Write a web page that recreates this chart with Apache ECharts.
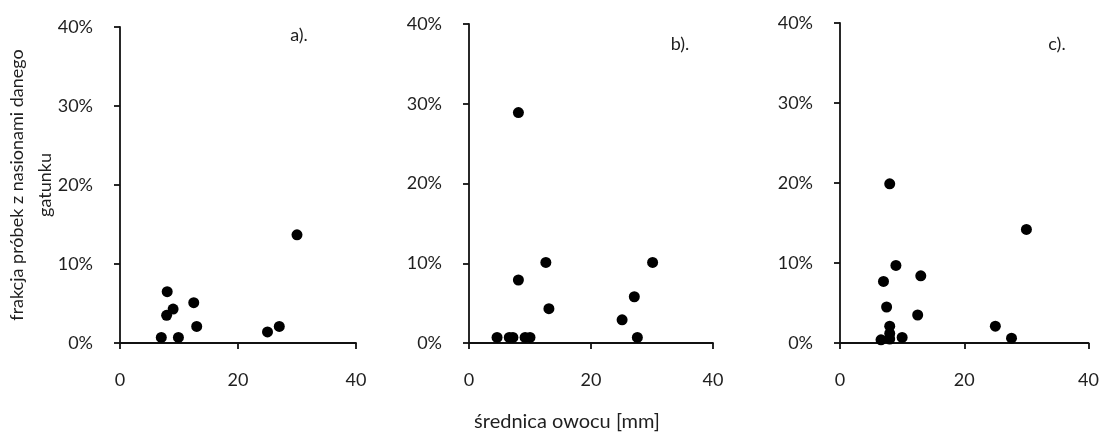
<!DOCTYPE html>
<html>
<head>
<meta charset="utf-8">
<script src="https://cdn.jsdelivr.net/npm/echarts@6/dist/echarts.min.js"></script>
<style>
  html, body { margin: 0; padding: 0; background: #fff; }
  #chart { width: 1102px; height: 432px; }
</style>
</head>
<body>
<div id="chart"></div>
<script>
// Fruit diameter [mm] vs. share of samples containing seeds of a species [%]
const panelLabels = ['a).', 'b).', 'c).'];
const xTicks = [0, 20, 40];
const yTicks = [0, 10, 20, 30, 40];

const diameterA = [7.0, 9.9, 7.9, 9.0, 8.0, 12.5, 13.0, 25.0, 27.0, 30.0];
const shareA    = [0.7, 0.7, 3.5, 4.3, 6.5, 5.1, 2.1, 1.4, 2.1, 13.7];

const diameterB = [4.6, 6.6, 7.2, 9.2, 10.0, 8.1, 8.1, 12.6, 13.1, 25.1, 27.1, 27.6, 30.1];
const shareB    = [0.7, 0.7, 0.7, 0.7, 0.7, 28.9, 7.9, 10.1, 4.3, 2.9, 5.8, 0.7, 10.1];

const diameterC = [6.6, 8.0, 8.0, 8.0, 10.0, 7.5, 7.0, 9.0, 8.0, 13.0, 12.5, 25.0, 27.6, 30.0];
const shareC    = [0.4, 0.5, 1.2, 2.1, 0.7, 4.5, 7.7, 9.7, 19.9, 8.4, 3.5, 2.1, 0.6, 14.2];

const yTitleLines = ['frakcja próbek z nasionami danego', 'gatunku'];
const xTitle = 'średnica owocu [mm]';

const FONT = 'Lato';
const INK = '#111111';
const TEXT = '#1f1f1f';

const panels = [
  { x: diameterA, y: shareA, grid: { left: 120, top: 27, width: 236, height: 316 }, label: [299, 35] },
  { x: diameterB, y: shareB, grid: { left: 469, top: 24, width: 244, height: 319 }, label: [680, 44] },
  { x: diameterC, y: shareC, grid: { left: 840, top: 23, width: 251, height: 320 }, label: [1057, 44] }
];

const chart = echarts.init(document.getElementById('chart'), null, { renderer: 'canvas' });

const axisCommon = {
  axisLine: { show: true, onZero: false, lineStyle: { color: INK, width: 1.8 } },
  axisTick: { show: true, inside: false, length: 6, lineStyle: { color: INK, width: 1.8 } },
  splitLine: { show: false },
  axisLabel: { color: TEXT, fontFamily: FONT, fontSize: 18, margin: 27 }
};

// centred text element for free-standing labels
function centredText(x, y, text, size, rotation) {
  return {
    type: 'text', x: x, y: y, rotation: rotation || 0,
    style: {
      text: text, fill: TEXT, fontFamily: FONT, fontSize: size,
      align: 'center', verticalAlign: 'middle',
      textAlign: 'center', textVerticalAlign: 'middle'
    }
  };
}

// y-axis title: two rotated lines, left of the first panel
const yTitleX = [17, 45];

const option = {
  backgroundColor: '#ffffff',
  animation: false,
  grid: panels.map(p => Object.assign({ containLabel: false }, p.grid)),
  xAxis: panels.map((p, i) => Object.assign({}, axisCommon, {
    type: 'value', gridIndex: i,
    min: xTicks[0], max: xTicks[xTicks.length - 1], interval: xTicks[1] - xTicks[0],
    axisLabel: Object.assign({}, axisCommon.axisLabel, { margin: 28 })
  })),
  yAxis: panels.map((p, i) => Object.assign({}, axisCommon, {
    type: 'value', gridIndex: i,
    min: yTicks[0], max: yTicks[yTicks.length - 1], interval: yTicks[1] - yTicks[0],
    axisLabel: Object.assign({}, axisCommon.axisLabel, { formatter: '{value}%' })
  })),
  series: panels.map((p, i) => ({
    type: 'scatter',
    xAxisIndex: i, yAxisIndex: i,
    symbol: 'circle', symbolSize: 11,
    itemStyle: { color: '#000', opacity: 1 },
    data: p.x.map((v, k) => [v, p.y[k]])
  })),
  graphic: [
    ...panels.map((p, i) => centredText(p.label[0], p.label[1], panelLabels[i], 18)),
    centredText(567, 422, xTitle, 20),
    ...yTitleLines.map((line, i) => centredText(yTitleX[i], 185, line, 18, Math.PI / 2))
  ]
};

chart.setOption(option);
</script>
</body>
</html>
